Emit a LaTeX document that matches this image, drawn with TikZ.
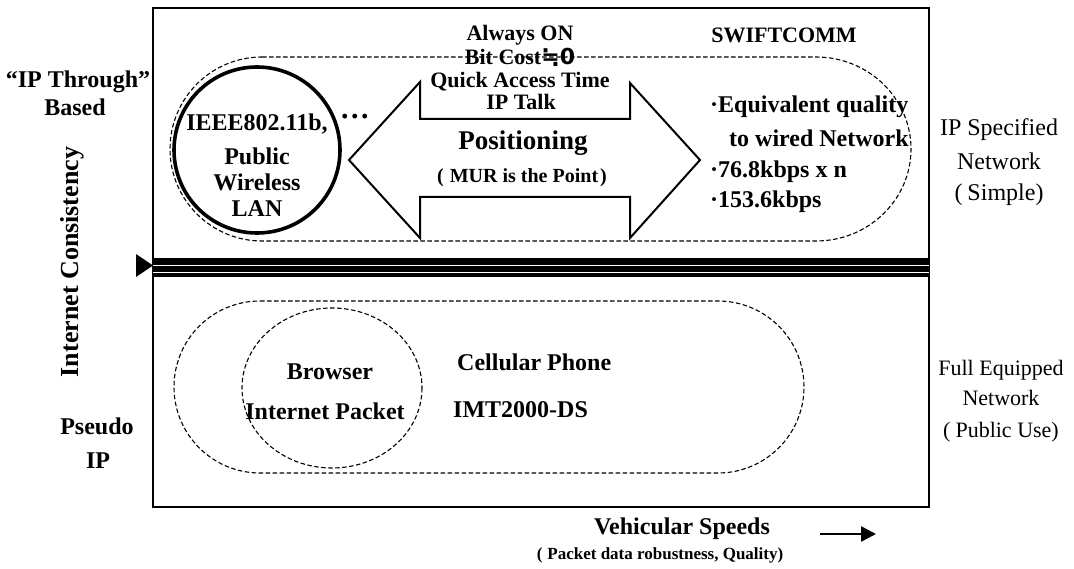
\documentclass[tikz,border=0pt]{standalone}
\usepackage{fontspec}
\setmainfont{Liberation Serif}
\newfontfamily\symfont{DejaVu Sans}
\usetikzlibrary{arrows.meta}
\tikzset{
  txt/.style={inner sep=0pt, text height=0.7em, text depth=0.2em},
  bA/.style={txt, font=\bfseries\fontsize{24}{26}\selectfont},
  bB/.style={txt, font=\bfseries\fontsize{22}{24}\selectfont},
  bC/.style={txt, font=\bfseries\fontsize{27}{29}\selectfont},
  bD/.style={txt, font=\bfseries\fontsize{20}{22}\selectfont},
  bE/.style={txt, font=\bfseries\fontsize{17}{19}\selectfont},
  bF/.style={txt, font=\bfseries\fontsize{26}{28}\selectfont},
  rA/.style={txt, font=\fontsize{24}{26}\selectfont},
  rB/.style={txt, font=\fontsize{22}{24}\selectfont},
  dashline/.style={dash pattern=on 4.5pt off 2.5pt, line width=1.1pt},
}
\begin{document}
\begin{tikzpicture}[x=1pt,y=-1pt]
\useasboundingbox (0,0) rectangle (1074,569);
\fill[white] (0,0) rectangle (1074,569);

% main frame
\draw[line width=1.3pt] (153,8) rectangle (929,507);

% thick band
\fill[black] (153,258) rectangle (929,277);
\draw[white, line width=0.8pt] (153,265.5) -- (929,265.5);
\draw[white, line width=0.8pt] (153,272) -- (929,272);
\fill[black] (136,254) -- (153,265.5) -- (136,277) -- cycle;

% upper dashed stadium
\draw[dashline] (262,57) -- (816,57)
  arc[start angle=-90, end angle=90, x radius=95, y radius=92]
  -- (262,241)
  arc[start angle=90, end angle=270, radius=92] -- cycle;

% lower dashed stadium
\draw[dashline] (260,301) -- (718,301)
  arc[start angle=-90, end angle=90, x radius=86, y radius=86]
  -- (260,473)
  arc[start angle=90, end angle=270, radius=86] -- cycle;

% inner ellipse
\draw[dashline] (332,388) ellipse[x radius=90, y radius=80];

% wireless LAN circle
\node[circle, draw, line width=3.6pt, minimum size=166pt, inner sep=0pt] (wlan) at (257,150) {};
\node[align=center, inner sep=0pt, font=\bfseries\fontsize{24}{26}\selectfont] (wlantxt) at (257,165)
  {IEEE802.11b,\\[8pt]Public\\Wireless\\LAN};
\node[txt, font=\bfseries\fontsize{30}{32}\selectfont] (dots) at (355,124) {···};

% double arrow
\draw[line width=2pt, fill=white, line join=miter]
  (349,160) -- (420,82) -- (420,119) -- (630,119) -- (630,83) -- (700,160)
  -- (630,238) -- (630,197) -- (420,197) -- (420,238) -- cycle;

\node[bB] (alwayson) at (520,38) {Always ON};
\node[bB] (bitcost) at (520,62) {Bit Cost{\symfont\bfseries ≒0}};
\node[bB] (quick) at (520,85) {Quick Access Time};
\node[bB] (iptalk) at (521,107) {IP Talk};
\node[bC] (posit) at (523,147) {Positioning};
\node[bD] (mur) at (522,180) {(\hspace{6pt}MUR is the Point\hspace{2pt})};

% SWIFTCOMM side
\node[bB] (swift) at (784,40) {SWIFTCOMM};
\node[bA, anchor=west] (eqa) at (710,110) {·Equivalent quality};
\node[bA, anchor=west] (eqb) at (729,144) {to wired Network};
\node[bA, anchor=west] (ratea) at (710,175) {·76.8kbps x n};
\node[bA, anchor=west] (rateb) at (710,205) {·153.6kbps};

% right labels
\node[rA] (ipsa) at (999,133) {IP Specified};
\node[rA] (ipsb) at (999,167) {Network};
\node[rA] (ipsc) at (999,198) {(\hspace{5pt}Simple)};
\node[rB] (fea) at (1001,373) {Full Equipped};
\node[rB] (feb) at (1001,403) {Network};
\node[rB] (fec) at (1001,435) {(\hspace{5pt}Public Use)};

% left labels
\node[bA] (ipthrough) at (78,85) {“IP Through”};
\node[bA] (based) at (75,113) {Based};
\node[bF, rotate=90] (icons) at (76,262) {Internet Consistency};
\node[bA] (pseudo) at (97,432) {Pseudo};
\node[bA] (ipl) at (98,466) {IP};

% lower area texts
\node[bA] (browser) at (330,377) {Browser};
\node[bA] (inetpkt) at (325,417) {Internet Packet};
\node[bA, anchor=west] (cell) at (457,368) {Cellular Phone};
\node[bA, anchor=west] (imt) at (453,415) {IMT2000-DS};

% bottom axis label
\node[bA] (vspeed) at (682,532) {Vehicular Speeds};
\node[bE] (pdr) at (660,557) {(\hspace{5pt}Packet data robustness, Quality)};
\coordinate (vsa) at (820,534);
\coordinate (vsb) at (876,534);
\draw[line width=2.6pt, -{Triangle[length=15pt,width=15pt]}] (vsa) -- (vsb);
\end{tikzpicture}
\end{document}
